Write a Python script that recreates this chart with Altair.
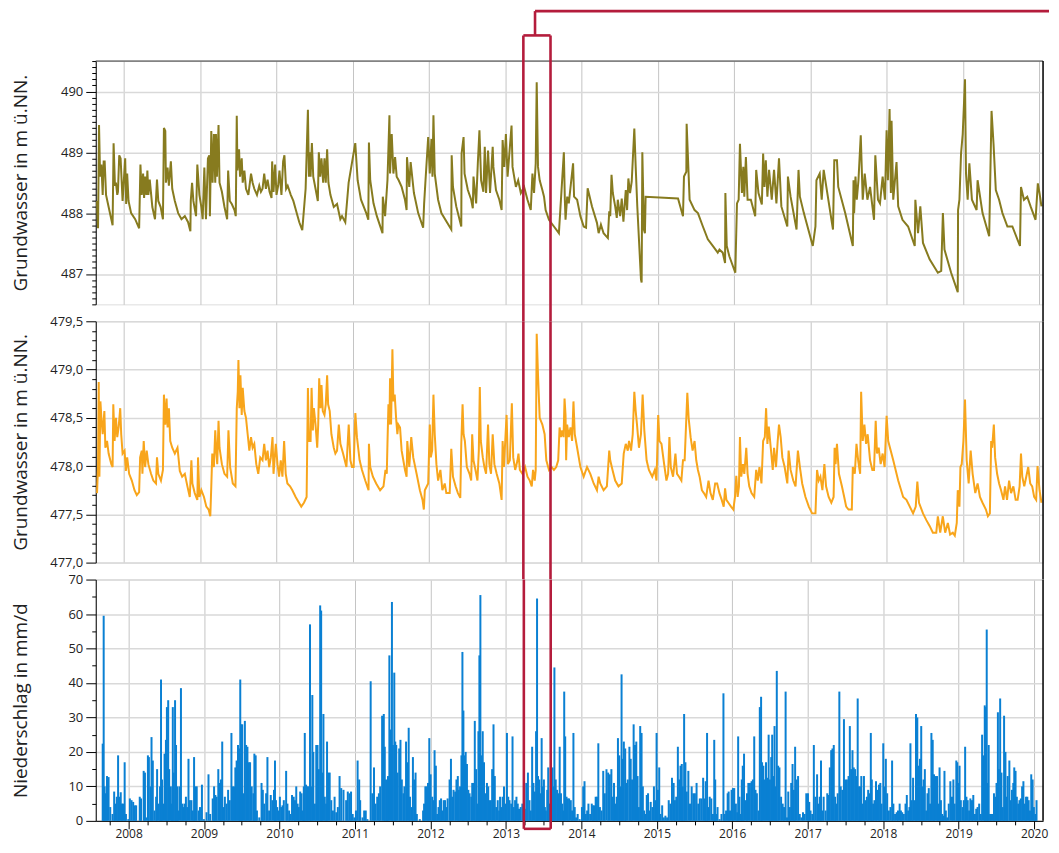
import altair as alt
import pandas as pd

# ---------------- data ----------------
# Groundwater gauge 1 (olive): (decimal year, level in m ü.NN.)
GW_OBEN = [
(2007.648,488.20),(2007.661,487.75),(2007.674,489.45),(2007.688,488.60),(2007.705,488.80),(2007.722,488.30),(2007.735,488.85),(2007.748,488.85),(2007.766,488.30),(2007.800,488.10),(2007.835,487.90),(2007.852,487.80),(2007.865,489.15),(2007.883,488.45),(2007.896,488.50),(2007.913,488.30),(2007.922,488.35),(2007.939,488.95),(2007.957,488.90),(2007.983,488.20),
(2008.017,488.90),(2008.030,488.15),(2008.043,488.65),(2008.061,488.20),(2008.095,488.00),(2008.148,487.90),(2008.200,487.75),(2008.217,488.80),(2008.234,488.30),(2008.252,488.65),(2008.265,488.25),(2008.278,488.60),(2008.295,488.30),(2008.308,488.70),(2008.321,488.30),(2008.339,488.55),(2008.373,488.10),(2008.408,487.90),(2008.434,488.55),(2008.451,488.20),(2008.482,488.10),(2008.512,487.90),(2008.525,489.40),(2008.543,489.35),(2008.551,488.50),(2008.573,488.75),(2008.590,488.45),(2008.616,488.85),(2008.634,488.40),(2008.668,488.20),(2008.712,488.00),(2008.755,487.90),(2008.799,487.95),(2008.842,487.85),(2008.872,487.70),(2008.877,488.20),(2008.894,488.50),(2008.911,488.20),(2008.946,487.95),(2008.963,488.80),(2008.990,488.30),
(2009.016,488.10),(2009.033,487.90),(2009.055,488.75),(2009.076,487.90),(2009.102,488.90),(2009.120,488.95),(2009.128,487.95),(2009.146,489.35),(2009.163,488.50),(2009.180,489.30),(2009.198,488.50),(2009.207,489.30),(2009.220,488.60),(2009.241,489.45),(2009.254,488.50),(2009.285,488.35),(2009.319,488.10),(2009.354,487.90),(2009.367,488.70),(2009.389,488.20),(2009.415,488.15),(2009.450,488.05),(2009.467,487.95),(2009.480,489.60),(2009.489,488.70),(2009.510,489.05),(2009.523,488.60),(2009.545,488.90),(2009.558,488.50),(2009.580,488.70),(2009.601,488.40),(2009.632,488.30),(2009.667,488.65),(2009.688,488.50),(2009.710,488.40),(2009.745,488.30),(2009.775,488.45),(2009.797,488.35),(2009.818,488.40),(2009.840,488.65),(2009.862,488.40),(2009.884,488.55),(2009.910,488.35),(2009.936,488.25),(2009.944,488.85),(2009.962,488.35),(2009.983,488.80),
(2010.001,488.30),(2010.023,488.45),(2010.040,488.70),(2010.066,488.30),(2010.088,488.85),(2010.105,488.95),(2010.127,488.40),(2010.148,488.45),(2010.188,488.30),(2010.222,488.20),(2010.266,488.00),(2010.300,487.85),(2010.339,487.72),(2010.383,488.40),(2010.413,489.70),(2010.426,488.60),(2010.435,489.00),(2010.448,488.60),(2010.465,489.15),(2010.483,488.60),(2010.513,488.40),(2010.543,488.20),(2010.556,489.00),(2010.574,488.60),(2010.591,488.90),(2010.613,488.50),(2010.630,488.90),(2010.647,488.50),(2010.665,489.05),(2010.682,488.50),(2010.708,488.30),(2010.752,488.10),(2010.795,488.15),(2010.838,487.90),(2010.860,487.95),(2010.903,487.85),(2010.947,488.50),
(2011.034,489.15),(2011.065,488.54),(2011.109,488.22),(2011.178,488.00),(2011.205,487.89),(2011.213,489.16),(2011.230,488.54),(2011.273,488.16),(2011.317,487.95),(2011.391,487.67),(2011.395,488.27),(2011.425,487.95),(2011.456,488.54),(2011.482,489.61),(2011.490,488.65),(2011.512,489.30),(2011.534,488.65),(2011.556,488.92),(2011.577,488.60),(2011.603,488.54),(2011.642,488.43),(2011.686,488.22),(2011.707,488.05),(2011.712,488.92),(2011.742,488.43),(2011.760,488.84),(2011.803,488.33),(2011.859,488.00),(2011.924,487.76),(2011.937,488.16),(2011.955,488.54),(2011.990,489.25),
(2012.011,488.65),(2012.033,489.22),(2012.046,488.60),(2012.059,489.61),(2012.076,488.65),(2012.120,488.22),(2012.163,488.00),(2012.293,487.73),(2012.298,488.95),(2012.315,488.43),(2012.358,488.11),(2012.424,487.78),(2012.428,488.98),(2012.454,489.25),(2012.467,488.65),(2012.510,488.38),(2012.554,488.22),(2012.575,488.08),(2012.584,488.60),(2012.619,488.16),(2012.641,488.82),(2012.662,489.36),(2012.684,488.54),(2012.714,488.35),(2012.732,489.09),(2012.749,488.33),(2012.775,489.03),(2012.801,488.33),(2012.836,489.09),(2012.845,488.76),(2012.879,488.38),(2012.923,488.22),(2012.953,488.05),(2012.966,489.20),(2012.988,488.76),
(2013.009,489.30),(2013.031,488.60),(2013.083,489.44),(2013.096,488.76),(2013.140,488.43),(2013.170,488.54),(2013.205,488.33),(2013.248,488.43),(2013.292,488.22),(2013.335,488.05),(2013.357,488.65),(2013.378,488.33),(2013.400,488.82),(2013.413,490.15),(2013.430,488.76),(2013.452,488.54),(2013.487,488.38),(2013.509,488.27),(2013.530,488.05),(2013.574,487.89),(2013.639,487.78),(2013.704,487.67),(2013.769,489.00),(2013.782,488.22),(2013.791,487.89),(2013.813,488.27),(2013.834,488.16),(2013.890,488.82),(2013.903,488.27),(2013.943,488.22),(2013.986,487.95),
(2014.029,487.78),(2014.060,487.76),(2014.081,488.41),(2014.138,488.11),(2014.203,487.84),(2014.225,487.67),(2014.255,487.81),(2014.290,487.67),(2014.346,487.59),(2014.364,488.03),(2014.377,487.95),(2014.394,488.63),(2014.411,488.33),(2014.442,488.11),(2014.463,487.92),(2014.476,488.22),(2014.507,487.95),(2014.528,488.24),(2014.550,487.86),(2014.581,488.38),(2014.598,488.05),(2014.615,488.57),(2014.637,488.33),(2014.659,488.52),(2014.693,489.39),(2014.711,488.76),(2014.732,488.11),(2014.780,486.91),(2014.789,486.86),(2014.798,489.00),(2014.819,487.73),(2014.832,487.67),(2014.841,488.27),
(2015.266,488.24),(2015.331,487.95),(2015.344,488.60),(2015.375,488.68),(2015.379,489.47),(2015.418,488.22),(2015.483,488.05),(2015.527,488.00),(2015.592,487.78),(2015.657,487.57),(2015.722,487.46),(2015.787,487.35),(2015.809,487.40),(2015.852,487.35),(2015.883,487.18),(2015.887,488.33),(2015.905,487.46),(2015.939,487.29),
(2016.017,487.02),(2016.039,488.16),(2016.061,488.22),(2016.078,489.14),(2016.104,488.33),(2016.122,488.76),(2016.135,488.27),(2016.156,488.92),(2016.178,488.22),(2016.221,488.22),(2016.278,487.95),(2016.291,488.71),(2016.321,488.33),(2016.365,488.14),(2016.382,488.98),(2016.399,488.43),(2016.417,488.87),(2016.438,488.27),(2016.460,488.71),(2016.495,488.22),(2016.525,488.71),(2016.556,488.16),(2016.590,488.90),(2016.621,488.11),(2016.699,487.78),(2016.707,488.60),(2016.742,488.27),(2016.820,487.73),(2016.846,488.71),(2016.864,488.27),(2016.916,488.00),
(2017.033,487.46),(2017.068,487.78),(2017.081,488.54),(2017.124,488.65),(2017.150,488.22),(2017.176,488.71),(2017.298,487.73),(2017.315,488.87),(2017.350,488.87),(2017.367,488.43),(2017.458,488.00),(2017.558,487.46),(2017.567,488.54),(2017.575,488.00),(2017.593,488.60),(2017.610,488.22),(2017.632,488.54),(2017.662,489.28),(2017.688,488.22),(2017.714,488.65),(2017.749,488.22),(2017.784,488.43),(2017.836,487.89),(2017.853,488.95),(2017.888,488.22),(2017.914,488.16),(2017.949,488.60),(2017.979,488.22),
(2018.001,489.36),(2018.018,488.54),(2018.040,489.71),(2018.057,488.33),(2018.066,489.52),(2018.088,488.22),(2018.131,488.84),(2018.153,488.11),(2018.209,487.89),(2018.283,487.78),(2018.370,487.46),(2018.378,488.22),(2018.413,487.67),(2018.443,488.11),(2018.478,487.51),(2018.565,487.24),(2018.673,487.02),(2018.717,487.05),(2018.739,488.00),(2018.760,487.40),(2018.847,487.02),(2018.934,486.70),(2018.938,488.05),(2018.956,488.22),(2018.977,488.98),(2018.999,489.30),
(2019.029,490.20),(2019.042,488.65),(2019.064,488.22),(2019.086,488.82),(2019.120,488.22),(2019.181,488.05),(2019.194,488.54),(2019.259,488.00),(2019.346,487.62),(2019.355,488.22),(2019.377,489.68),(2019.403,489.14),(2019.433,488.38),(2019.476,488.22),(2019.520,488.00),(2019.585,487.78),(2019.650,487.78),(2019.715,487.57),(2019.750,487.46),(2019.763,488.43),(2019.802,488.22),(2019.845,488.27),(2019.889,488.11),(2019.954,487.89),(2019.984,488.49),(2020.006,488.33),(2020.032,488.11),
]

# Groundwater gauge 2 (orange): (decimal year, level in m ü.NN.)
GW_UNTEN = [
(2007.648,477.72),(2007.661,478.00),(2007.670,478.87),(2007.679,477.89),(2007.692,478.67),(2007.705,478.50),(2007.722,478.33),(2007.744,478.57),(2007.757,478.19),(2007.779,478.26),(2007.800,478.13),(2007.835,478.02),(2007.852,477.99),(2007.861,478.64),(2007.878,478.26),(2007.896,478.50),(2007.913,478.30),(2007.931,478.40),(2007.952,478.60),(2007.965,478.33),(2007.983,478.13),
(2008.009,478.16),(2008.026,477.95),(2008.043,478.09),(2008.069,477.92),(2008.104,477.85),(2008.139,477.75),(2008.169,477.70),(2008.200,477.73),(2008.213,478.09),(2008.234,478.16),(2008.243,477.92),(2008.260,478.26),(2008.278,477.99),(2008.299,478.16),(2008.321,478.02),(2008.356,477.92),(2008.386,477.85),(2008.421,477.82),(2008.434,478.09),(2008.451,477.92),(2008.486,477.85),(2008.512,477.96),(2008.525,478.74),(2008.543,478.43),(2008.560,478.70),(2008.573,478.40),(2008.590,478.60),(2008.608,478.26),(2008.634,478.19),(2008.668,478.13),(2008.703,478.19),(2008.733,477.95),(2008.764,477.89),(2008.799,477.92),(2008.833,477.79),(2008.864,477.68),(2008.885,478.06),(2008.898,477.82),(2008.929,477.72),(2008.963,477.65),(2008.972,478.09),(2008.990,477.68),
(2009.016,477.75),(2009.050,477.68),(2009.081,477.58),(2009.111,477.55),(2009.133,477.48),(2009.146,477.79),(2009.159,478.13),(2009.180,477.99),(2009.198,478.37),(2009.211,478.16),(2009.224,478.02),(2009.241,478.47),(2009.254,478.19),(2009.285,478.02),(2009.319,477.92),(2009.354,477.89),(2009.371,478.37),(2009.393,477.99),(2009.428,477.82),(2009.463,477.79),(2009.480,478.60),(2009.493,478.77),(2009.502,479.10),(2009.515,478.60),(2009.528,478.94),(2009.545,478.53),(2009.558,478.81),(2009.580,478.57),(2009.601,478.50),(2009.623,478.33),(2009.645,478.16),(2009.667,478.30),(2009.688,478.19),(2009.710,478.23),(2009.736,478.02),(2009.762,477.92),(2009.788,478.09),(2009.818,478.06),(2009.840,478.23),(2009.862,478.06),(2009.884,478.16),(2009.905,477.99),(2009.927,478.09),(2009.949,478.30),(2009.962,477.92),(2009.992,478.23),
(2010.014,478.02),(2010.035,477.89),(2010.057,478.06),(2010.079,477.89),(2010.101,478.26),(2010.122,477.92),(2010.144,477.82),(2010.179,477.79),(2010.209,477.75),(2010.252,477.68),(2010.296,477.62),(2010.326,477.58),(2010.361,477.62),(2010.396,477.68),(2010.413,478.81),(2010.426,478.26),(2010.448,478.26),(2010.461,478.81),(2010.478,478.37),(2010.491,478.60),(2010.513,478.43),(2010.535,478.19),(2010.548,478.43),(2010.561,478.91),(2010.578,478.60),(2010.591,478.84),(2010.608,478.57),(2010.630,478.53),(2010.647,478.64),(2010.665,478.94),(2010.678,478.64),(2010.699,478.57),(2010.721,478.33),(2010.752,478.19),(2010.773,478.13),(2010.795,478.16),(2010.818,478.43),(2010.839,478.23),(2010.874,478.13),(2010.918,477.99),(2010.948,478.43),(2010.970,478.06),(2010.991,477.99),
(2011.013,477.99),(2011.035,478.55),(2011.056,478.30),(2011.091,478.06),(2011.122,477.96),(2011.165,477.85),(2011.208,477.75),(2011.213,478.23),(2011.230,477.99),(2011.265,477.89),(2011.308,477.82),(2011.360,477.75),(2011.404,477.79),(2011.430,477.96),(2011.447,477.92),(2011.456,478.23),(2011.469,478.64),(2011.482,478.43),(2011.490,478.91),(2011.503,478.43),(2011.521,479.21),(2011.534,478.67),(2011.551,478.74),(2011.569,478.50),(2011.586,478.33),(2011.599,478.43),(2011.621,478.40),(2011.642,478.16),(2011.664,478.06),(2011.686,477.96),(2011.707,477.89),(2011.716,478.26),(2011.742,477.99),(2011.768,478.30),(2011.794,478.09),(2011.838,477.92),(2011.881,477.75),(2011.916,477.65),(2011.933,477.55),(2011.946,477.75),(2011.990,477.82),
(2012.011,478.43),(2012.024,478.09),(2012.042,478.16),(2012.059,478.74),(2012.076,478.33),(2012.098,478.02),(2012.120,477.85),(2012.150,477.96),(2012.176,477.75),(2012.207,477.82),(2012.228,477.72),(2012.272,477.72),(2012.293,478.18),(2012.315,477.89),(2012.350,477.79),(2012.380,477.72),(2012.411,477.67),(2012.424,478.23),(2012.441,478.64),(2012.454,478.33),(2012.471,478.26),(2012.497,477.99),(2012.532,477.92),(2012.554,477.85),(2012.567,478.33),(2012.584,478.06),(2012.610,477.96),(2012.636,477.85),(2012.654,478.16),(2012.667,478.82),(2012.680,478.26),(2012.706,478.09),(2012.727,477.99),(2012.749,477.92),(2012.775,478.43),(2012.792,478.02),(2012.814,477.92),(2012.836,478.33),(2012.858,478.02),(2012.888,477.92),(2012.923,477.82),(2012.953,477.65),(2012.966,478.26),(2012.983,477.99),
(2013.018,478.53),(2013.035,478.02),(2013.061,478.06),(2013.087,478.65),(2013.105,478.09),(2013.131,477.96),(2013.161,478.06),(2013.174,478.13),(2013.192,477.96),(2013.226,477.92),(2013.261,477.99),(2013.292,477.89),(2013.322,477.85),(2013.348,477.79),(2013.365,477.96),(2013.387,477.85),(2013.400,477.96),(2013.413,479.37),(2013.430,478.94),(2013.452,478.50),(2013.487,478.43),(2013.517,478.33),(2013.539,478.06),(2013.574,477.96),(2013.608,477.99),(2013.639,477.96),(2013.669,477.99),(2013.695,478.06),(2013.713,478.40),(2013.730,478.30),(2013.747,478.37),(2013.765,478.30),(2013.778,478.70),(2013.791,478.53),(2013.799,478.06),(2013.812,478.43),(2013.834,478.30),(2013.856,478.40),(2013.877,478.26),(2013.895,478.67),(2013.912,478.33),(2013.943,478.19),(2013.986,477.99),
(2014.029,477.89),(2014.073,477.99),(2014.116,477.92),(2014.160,477.82),(2014.203,477.75),(2014.225,477.89),(2014.246,477.82),(2014.290,477.75),(2014.333,477.79),(2014.364,478.16),(2014.377,478.06),(2014.407,477.96),(2014.442,477.85),(2014.485,477.79),(2014.528,477.82),(2014.554,478.13),(2014.581,478.23),(2014.607,478.16),(2014.624,478.26),(2014.650,478.16),(2014.672,478.33),(2014.693,478.77),(2014.711,478.57),(2014.728,478.43),(2014.754,478.19),(2014.780,478.33),(2014.802,478.74),(2014.824,478.37),(2014.854,478.06),(2014.884,477.96),(2014.928,477.89),(2014.962,477.96),(2014.984,477.85),
(2015.006,478.53),(2015.023,478.26),(2015.049,478.23),(2015.084,478.02),(2015.114,477.85),(2015.136,477.92),(2015.153,478.30),(2015.171,477.99),(2015.201,477.89),(2015.232,478.13),(2015.253,477.92),(2015.279,477.89),(2015.310,477.85),(2015.331,478.06),(2015.353,478.06),(2015.375,478.50),(2015.388,478.76),(2015.405,478.50),(2015.431,478.30),(2015.457,478.16),(2015.483,478.26),(2015.505,478.06),(2015.527,477.96),(2015.549,477.89),(2015.579,477.75),(2015.605,477.72),(2015.635,477.68),(2015.666,477.85),(2015.692,477.72),(2015.722,477.65),(2015.753,477.82),(2015.779,477.82),(2015.809,477.72),(2015.839,477.65),(2015.865,477.58),(2015.883,477.77),(2015.900,477.65),(2015.926,477.62),(2015.961,477.58),(2015.991,477.55),
(2016.013,477.68),(2016.030,477.90),(2016.048,477.68),(2016.065,477.79),(2016.078,478.30),(2016.095,477.89),(2016.117,478.02),(2016.135,477.92),(2016.161,478.19),(2016.178,477.92),(2016.200,477.79),(2016.230,477.72),(2016.265,477.68),(2016.291,477.96),(2016.312,477.85),(2016.334,477.99),(2016.360,477.82),(2016.382,478.26),(2016.404,478.30),(2016.421,478.60),(2016.438,478.23),(2016.456,478.41),(2016.482,478.19),(2016.508,477.96),(2016.525,478.19),(2016.551,477.99),(2016.573,478.26),(2016.590,478.43),(2016.612,478.30),(2016.634,478.09),(2016.664,477.99),(2016.699,477.82),(2016.716,478.16),(2016.742,477.96),(2016.777,477.85),(2016.807,477.79),(2016.838,478.16),(2016.864,477.99),(2016.894,477.82),(2016.937,477.68),(2016.981,477.58),
(2017.024,477.51),(2017.068,477.51),(2017.089,477.96),(2017.111,477.85),(2017.133,477.89),(2017.159,477.75),(2017.185,478.02),(2017.207,477.79),(2017.241,477.68),(2017.276,477.62),(2017.306,477.68),(2017.319,478.19),(2017.332,478.02),(2017.350,478.23),(2017.376,477.92),(2017.415,477.79),(2017.445,477.68),(2017.471,477.58),(2017.502,477.55),(2017.545,477.55),(2017.558,477.99),(2017.584,477.92),(2017.606,478.23),(2017.628,478.06),(2017.654,477.92),(2017.667,478.77),(2017.688,478.26),(2017.710,478.43),(2017.732,478.23),(2017.753,478.33),(2017.784,478.06),(2017.814,477.96),(2017.836,477.96),(2017.858,478.47),(2017.875,478.13),(2017.897,478.19),(2017.923,478.02),(2017.949,478.13),(2017.975,477.99),
(2018.001,478.52),(2018.022,478.26),(2018.088,478.06),(2018.153,477.85),(2018.218,477.68),(2018.261,477.65),(2018.305,477.58),(2018.348,477.51),(2018.383,477.58),(2018.404,477.84),(2018.426,477.62),(2018.478,477.51),(2018.522,477.44),(2018.565,477.38),(2018.608,477.31),(2018.652,477.31),(2018.673,477.48),(2018.704,477.31),(2018.738,477.48),(2018.769,477.31),(2018.804,477.41),(2018.834,477.29),(2018.869,477.31),(2018.895,477.28),(2018.921,477.41),(2018.934,477.75),(2018.956,477.58),(2018.969,477.99),(2018.986,478.02),
(2019.008,478.26),(2019.029,478.69),(2019.051,478.06),(2019.077,477.82),(2019.103,478.16),(2019.129,477.92),(2019.164,477.72),(2019.194,477.82),(2019.225,477.68),(2019.259,477.62),(2019.303,477.55),(2019.329,477.48),(2019.355,477.51),(2019.372,478.26),(2019.385,478.19),(2019.407,478.43),(2019.424,478.09),(2019.450,477.92),(2019.476,477.82),(2019.502,477.75),(2019.533,477.65),(2019.554,477.79),(2019.580,477.65),(2019.607,477.85),(2019.633,477.72),(2019.663,477.79),(2019.693,477.65),(2019.719,477.65),(2019.745,477.79),(2019.763,478.13),(2019.780,477.89),(2019.806,477.79),(2019.832,477.89),(2019.858,477.99),(2019.884,477.82),(2019.910,477.79),(2019.936,477.68),(2019.962,477.65),(2019.980,478.00),(2020.006,477.75),(2020.032,477.62),
]

# Daily precipitation (blue bars): (decimal year, mm/d)
NIEDERSCHLAG = [
(2007.657,22.4),(2007.670,59.5),(2007.683,10),(2007.696,8),(2007.714,13),(2007.735,12.7),(2007.757,4),(2007.787,2),(2007.809,8.5),(2007.826,5),(2007.844,7),(2007.861,19),(2007.878,7),(2007.896,8.3),(2007.913,5),(2007.931,5),(2007.948,17),(2007.965,2),(2007.996,0.5),
(2008.017,6.5),(2008.039,6),(2008.061,5.5),(2008.082,4.5),(2008.100,4.5),(2008.148,7),(2008.165,6.5),(2008.200,14.5),(2008.217,14),(2008.234,1),(2008.256,19),(2008.269,18.5),(2008.291,10),(2008.304,24.3),(2008.321,17.5),(2008.343,3),(2008.365,7),(2008.378,15),(2008.399,5),(2008.417,10),(2008.430,41),(2008.443,12),(2008.460,5),(2008.477,19.5),(2008.495,23.5),(2008.508,33),(2008.525,35),(2008.538,15),(2008.560,10),(2008.573,5),(2008.586,33),(2008.599,14),(2008.616,35),(2008.629,22),(2008.642,10),(2008.655,3),(2008.673,10),(2008.694,38.5),(2008.712,5),(2008.725,4),(2008.742,5),(2008.760,7),(2008.777,4),(2008.794,18),(2008.812,6),(2008.833,6),(2008.851,3),(2008.868,18.5),(2008.885,10),(2008.903,10),(2008.929,3),(2008.946,4),(2008.972,10.5),(2008.998,0.5),
(2009.033,2.5),(2009.059,13.5),(2009.081,2),(2009.115,6.5),(2009.133,10),(2009.150,7.5),(2009.167,7),(2009.189,15),(2009.211,11),(2009.224,12),(2009.241,23),(2009.259,4),(2009.276,7),(2009.298,5),(2009.319,9),(2009.341,6),(2009.363,25.5),(2009.380,10),(2009.397,10),(2009.415,15.5),(2009.432,17.5),(2009.450,22),(2009.467,21),(2009.480,41),(2009.493,28),(2009.506,28),(2009.523,8),(2009.541,29),(2009.558,22),(2009.575,21.5),(2009.593,17),(2009.610,17),(2009.632,10),(2009.654,8),(2009.667,19.5),(2009.684,19),(2009.701,3),(2009.732,1),(2009.762,11),(2009.779,9),(2009.797,5),(2009.823,8),(2009.840,18.5),(2009.862,3),(2009.884,7.5),(2009.905,6),(2009.927,9),(2009.940,17.5),(2009.953,6),(2009.970,4),(2009.992,3),
(2010.005,7),(2010.023,4),(2010.040,4.5),(2010.057,6),(2010.088,14.5),(2010.105,5),(2010.127,3),(2010.144,2),(2010.166,7.5),(2010.188,7),(2010.205,6),(2010.222,10),(2010.240,5),(2010.257,4),(2010.274,8.5),(2010.292,8),(2010.309,3),(2010.322,10),(2010.335,25.5),(2010.352,10.5),(2010.370,10),(2010.383,10),(2010.404,57),(2010.417,10),(2010.435,36.5),(2010.448,20),(2010.469,5),(2010.487,22),(2010.504,22),(2010.522,15),(2010.539,62.5),(2010.552,61),(2010.565,14),(2010.582,31),(2010.600,7),(2010.617,5),(2010.630,23),(2010.647,14),(2010.665,14),(2010.686,6),(2010.708,3),(2010.730,7),(2010.752,2.5),(2010.773,4),(2010.796,13),(2010.818,9.5),(2010.848,9),(2010.883,6),(2010.905,8.5),(2010.926,8),(2010.948,8.5),(2010.970,2),(2010.991,1),
(2011.013,3),(2011.035,17.5),(2011.056,12),(2011.069,6),(2011.100,1),(2011.122,3),(2011.143,3),(2011.165,0.5),(2011.208,40.5),(2011.230,8),(2011.252,15.5),(2011.273,5),(2011.295,7),(2011.317,8),(2011.334,10),(2011.360,30.5),(2011.382,31),(2011.395,21.5),(2011.412,12),(2011.425,9),(2011.438,13),(2011.456,48),(2011.473,26.5),(2011.490,63.5),(2011.503,22),(2011.521,43),(2011.534,23),(2011.547,22),(2011.564,14),(2011.586,21),(2011.603,23.5),(2011.621,12),(2011.642,8),(2011.655,10),(2011.677,23),(2011.694,17),(2011.712,27),(2011.729,7),(2011.751,4),(2011.768,18.5),(2011.786,12),(2011.803,14),(2011.820,2),(2011.859,0.5),(2011.903,3),(2011.916,5),(2011.933,10),(2011.950,10),(2011.968,11),(2011.985,24),
(2012.003,13.5),(2012.024,7),(2012.042,6),(2012.055,20.5),(2012.072,16),(2012.089,2),(2012.107,4),(2012.124,6),(2012.141,6.5),(2012.159,3),(2012.176,6),(2012.194,6),(2012.211,4),(2012.228,6.5),(2012.254,12),(2012.272,18),(2012.289,7),(2012.306,9),(2012.328,8.5),(2012.345,12),(2012.363,13),(2012.376,9),(2012.393,10),(2012.411,19),(2012.424,49),(2012.437,32),(2012.450,19),(2012.467,20),(2012.484,16.5),(2012.502,9),(2012.519,8),(2012.541,7),(2012.554,11),(2012.571,11),(2012.588,29),(2012.606,15),(2012.619,5),(2012.636,26),(2012.649,48),(2012.662,65.5),(2012.675,19),(2012.693,26),(2012.710,17),(2012.727,8),(2012.749,11),(2012.766,10),(2012.779,6),(2012.801,6),(2012.818,15),(2012.836,28),(2012.853,13),(2012.871,4),(2012.892,6),(2012.910,3),(2012.923,7),(2012.940,4),(2012.957,7),(2012.975,10),(2012.996,5),
(2013.014,25.5),(2013.031,7),(2013.048,6),(2013.070,5),(2013.088,24.5),(2013.105,4),(2013.122,6),(2013.140,7),(2013.157,5),(2013.174,3.5),(2013.196,4),(2013.218,5),(2013.235,3),(2013.252,3.5),(2013.270,11),(2013.292,14),(2013.313,6),(2013.331,3),(2013.348,21.5),(2013.365,11),(2013.383,8.5),(2013.400,26),(2013.413,64.5),(2013.426,13),(2013.443,12),(2013.456,8),(2013.474,24),(2013.487,10),(2013.504,12),(2013.517,4),(2013.530,3),(2013.548,9),(2013.561,15.5),(2013.574,5),(2013.595,5),(2013.617,15.5),(2013.630,10),(2013.643,44.5),(2013.660,12),(2013.678,9),(2013.695,8),(2013.713,21.5),(2013.730,8),(2013.747,5),(2013.765,3),(2013.773,37.5),(2013.786,24.5),(2013.804,7),(2013.821,6.5),(2013.838,6.5),(2013.860,6),(2013.877,3),(2013.895,25.5),(2013.912,4),(2013.930,1),(2013.951,2),(2013.977,0.5),
(2014.008,4),(2014.025,10),(2014.042,11.5),(2014.060,2),(2014.077,3),(2014.094,5),(2014.116,2),(2014.138,5),(2014.155,4.5),(2014.173,4.5),(2014.190,7),(2014.207,7),(2014.225,22.5),(2014.246,4),(2014.268,3),(2014.290,14.5),(2014.311,8),(2014.333,15),(2014.355,14),(2014.377,13.5),(2014.398,15),(2014.416,7),(2014.433,11),(2014.450,5),(2014.468,7),(2014.485,24),(2014.502,19),(2014.520,10),(2014.533,42.5),(2014.546,18),(2014.563,23),(2014.581,21),(2014.594,11),(2014.615,12),(2014.637,21.5),(2014.654,18),(2014.672,12),(2014.693,28),(2014.711,22),(2014.728,23),(2014.745,13),(2014.763,4),(2014.780,27.5),(2014.798,25.5),(2014.815,10),(2014.832,3),(2014.850,2),(2014.867,7.5),(2014.884,8),(2014.902,3),(2014.919,5.5),(2014.941,4),(2014.962,10),(2014.980,6),(2014.997,25.5),
(2015.015,9),(2015.032,15.5),(2015.049,2),(2015.071,4.5),(2015.093,1),(2015.114,1.5),(2015.136,1),(2015.158,6),(2015.179,5),(2015.201,12.5),(2015.223,11),(2015.240,6),(2015.258,7),(2015.279,21.5),(2015.297,12),(2015.314,16),(2015.331,16.5),(2015.344,10),(2015.362,31),(2015.379,17),(2015.397,8.5),(2015.418,14.5),(2015.440,5),(2015.462,10),(2015.483,8),(2015.505,8),(2015.527,11),(2015.549,5),(2015.570,6.5),(2015.592,6.5),(2015.614,12.5),(2015.635,6.5),(2015.648,11.5),(2015.666,25.5),(2015.683,4),(2015.701,7),(2015.722,6.5),(2015.744,2),(2015.761,23.5),(2015.774,12),(2015.787,2),(2015.805,4),(2015.831,0.5),(2015.857,2),(2015.883,37),(2015.900,2),(2015.918,3),(2015.939,8),(2015.952,8.5),(2015.970,3),(2015.991,9),
(2016.009,9.5),(2016.026,9.5),(2016.048,5),(2016.065,2.5),(2016.078,24.5),(2016.095,7),(2016.113,2),(2016.126,12),(2016.139,16),(2016.156,19.5),(2016.178,6),(2016.195,8),(2016.213,11),(2016.234,11),(2016.256,11.5),(2016.273,12),(2016.291,24.5),(2016.308,9),(2016.326,8),(2016.347,3),(2016.365,33),(2016.382,36),(2016.395,17),(2016.412,16),(2016.430,12),(2016.447,17),(2016.464,12.5),(2016.482,25),(2016.499,12),(2016.516,18.5),(2016.529,25),(2016.547,13),(2016.560,27.5),(2016.577,10),(2016.590,43.5),(2016.608,16),(2016.625,15.5),(2016.647,7),(2016.668,5),(2016.686,4),(2016.707,37.5),(2016.725,1),(2016.742,8.5),(2016.764,4),(2016.781,11),(2016.799,16.5),(2016.816,9),(2016.833,21.5),(2016.851,12),(2016.872,13),(2016.894,2),(2016.916,1),(2016.937,2.5),(2016.959,2),(2016.981,8),
(2017.003,8),(2017.020,5.5),(2017.037,3),(2017.059,2),(2017.081,22),(2017.102,7),(2017.124,13.5),(2017.141,5),(2017.159,7),(2017.176,17.5),(2017.194,3),(2017.211,7),(2017.237,3),(2017.259,8),(2017.276,7.5),(2017.293,15.5),(2017.311,20.5),(2017.328,21),(2017.345,22),(2017.363,7),(2017.380,5),(2017.397,8),(2017.419,37.5),(2017.437,10),(2017.458,9),(2017.480,29.5),(2017.497,12),(2017.519,12),(2017.541,13),(2017.558,27.5),(2017.575,15),(2017.593,20.5),(2017.610,15.5),(2017.628,15),(2017.645,13),(2017.662,35.5),(2017.680,10),(2017.697,10),(2017.710,13),(2017.727,5),(2017.745,13),(2017.762,6),(2017.784,7),(2017.801,9),(2017.818,8),(2017.836,25.5),(2017.849,12),(2017.866,5),(2017.884,6),(2017.905,11.5),(2017.923,9),(2017.944,10.5),(2017.962,11),(2017.979,5),
(2018.001,22.5),(2018.018,10),(2018.035,18),(2018.053,8),(2018.075,3),(2018.096,4),(2018.118,17.5),(2018.135,5),(2018.157,2),(2018.179,2.5),(2018.196,3),(2018.218,5),(2018.235,3),(2018.252,2.5),(2018.274,2),(2018.296,5),(2018.313,7.5),(2018.331,3),(2018.348,4),(2018.361,22.5),(2018.378,6),(2018.396,12.5),(2018.417,6),(2018.435,31),(2018.452,30),(2018.469,16),(2018.487,18),(2018.504,27.5),(2018.522,10),(2018.535,12),(2018.552,15),(2018.569,3),(2018.587,8),(2018.604,9.5),(2018.621,5),(2018.639,25.5),(2018.656,23.5),(2018.673,13.5),(2018.691,13),(2018.713,13),(2018.730,5),(2018.747,15.5),(2018.765,6),(2018.782,2),(2018.795,1.5),(2018.812,14.5),(2018.830,3),(2018.847,1),(2018.869,5),(2018.890,11.5),(2018.912,7),(2018.930,12),(2018.947,5),(2018.969,17.5),(2018.982,17),(2018.999,11),
(2019.012,16),(2019.029,6),(2019.051,4),(2019.068,6),(2019.086,21.5),(2019.103,7),(2019.120,6),(2019.138,3),(2019.155,6.5),(2019.177,6),(2019.194,7.5),(2019.216,2),(2019.233,3.5),(2019.251,4),(2019.272,5),(2019.294,2),(2019.311,25),(2019.333,19),(2019.346,33.5),(2019.359,33),(2019.372,55.5),(2019.385,11),(2019.398,22),(2019.416,2),(2019.433,2),(2019.450,2),(2019.468,8),(2019.485,7),(2019.502,11),(2019.520,31.5),(2019.533,15),(2019.550,35.5),(2019.567,14),(2019.585,4),(2019.602,30.5),(2019.620,20),(2019.637,7),(2019.650,13),(2019.672,17.5),(2019.689,6),(2019.706,9),(2019.724,11),(2019.737,15.5),(2019.754,14.5),(2019.771,7),(2019.789,5),(2019.806,6),(2019.824,6.5),(2019.841,10),(2019.858,11.5),(2019.876,5),(2019.893,7),(2019.910,7),(2019.928,6),(2019.945,3),(2019.962,13.5),(2019.980,12),(2019.997,4),(2020.015,2),(2020.032,6),
]

# axis ticks / labels
YEARS = list(range(2008, 2021))
QUARTER_TICKS = [2007.75 + 0.25 * i for i in range(50)]
TICKS_OBEN = [round(486.5 + 0.1 * i, 1) for i in range(41)]
TICKS_UNTEN = [round(477.0 + 0.1 * i, 1) for i in range(26)]
TICKS_NIED = list(range(0, 75, 5))

# highlighted period (summer 2013 flood)
HIGHLIGHT = {"start": [2013.238], "end": [2013.594], "mid": [2013.391]}

# ---------------- style ----------------
W = 950
H1, H2, H3 = 244, 242, 242
GAP = 17
XDOM = [2007.631, 2020.052]
FONT = "Open Sans"
OLIVE = "#877b1f"
ORANGE = "#f8a51b"
BLUE = "#0a80d3"
RED = "#b41c3c"
TXT = "#222222"
BOX_TOP = -25.7
CONN_Y = -50.1
BOX_BOTTOM = H3 + 8

df_oben = pd.DataFrame(GW_OBEN, columns=["Jahr", "Wert"])
df_unten = pd.DataFrame(GW_UNTEN, columns=["Jahr", "Wert"])
df_nied = pd.DataFrame(NIEDERSCHLAG, columns=["Jahr", "Wert"])
df_hl = pd.DataFrame(HIGHLIGHT)
df_one = pd.DataFrame({"k": [0]})

xscale = alt.Scale(domain=XDOM, nice=False, zero=False)


def cond(test, a, b):
    return {"condition": {"test": test, "value": a}, "value": b}


def x_axis(show):
    if not show:
        return alt.Axis(values=YEARS, title=None, grid=True, gridColor="#c4c4c4",
                        gridWidth=1, labels=False, ticks=False, domain=False)
    t = "datum.value % 1 == 0"
    return alt.Axis(values=QUARTER_TICKS, title=None, grid=True, gridColor="#c4c4c4",
                    gridWidth=1, gridOpacity=cond(t, 1, 0), tickSize=cond(t, 8, 4),
                    tickColor="#000", domainColor="#000", domainWidth=1,
                    labelExpr=f"{t} ? format(datum.value, 'd') : ''",
                    labelOverlap=False, labelFlush=False, labelPadding=0,
                    labelFont=FONT, labelFontSize=12, labelColor=TXT)


def y_axis(title, values, test, label_expr, h):
    return alt.Axis(values=values, title=title, titleFont=FONT, titleFontSize=19,
                    titleFontWeight="normal", titleColor=TXT, titleAngle=270,
                    titleX=-65.5, titleY=h / 2, titleAlign="center", titleBaseline="bottom",
                    grid=True, gridColor="#d9d9d9", gridWidth=1.5,
                    gridOpacity=cond(test, 1, 0), tickSize=cond(test, 10, 4),
                    tickColor="#000", domainColor="#000", domainWidth=1,
                    labelExpr=label_expr, labelOverlap=False, labelPadding=3,
                    labelFont=FONT, labelFontSize=13, labelColor=TXT)


def vrule(field, y0, y1, xaxis):
    return alt.Chart(df_hl).mark_rule(color=RED, strokeWidth=2.6).encode(
        x=alt.X(f"{field}:Q", scale=xscale, axis=xaxis),
        y=alt.value(y0), y2=alt.value(y1))


def right_border(h_extra):
    return alt.Chart(df_one).mark_rule(color="#000", strokeWidth=1.5).encode(
        x=alt.value(W), y=alt.value(0), y2=alt.value(h_extra))


AX_OFF = x_axis(False)
AX_ON = x_axis(True)

# ---------------- panel 1 ----------------
t1 = "abs(datum.value - round(datum.value)) < 0.001"
line1 = alt.Chart(df_oben).mark_line(color=OLIVE, strokeWidth=2).encode(
    x=alt.X("Jahr:Q", scale=xscale, axis=AX_OFF),
    y=alt.Y("Wert:Q", scale=alt.Scale(domain=[486.5, 490.5], nice=False, zero=False),
            axis=y_axis("Grundwasser in m ü.NN.", TICKS_OBEN, t1,
                        f"{t1} ? format(datum.value, 'd') : ''", H1)))
top_border = alt.Chart(df_one).mark_rule(color="#333", strokeWidth=1).encode(
    x=alt.value(0), x2=alt.value(W), y=alt.value(0))
box_top = alt.Chart(df_hl).mark_rule(color=RED, strokeWidth=2.6).encode(
    x=alt.X("start:Q", scale=xscale, axis=AX_OFF), x2="end:Q", y=alt.value(BOX_TOP))
conn_v = vrule("mid", BOX_TOP, CONN_Y, AX_OFF)
conn_h = alt.Chart(df_hl).mark_rule(color=RED, strokeWidth=2.6).encode(
    x=alt.X("mid:Q", scale=xscale, axis=AX_OFF), x2=alt.value(W + 6), y=alt.value(CONN_Y))
p1 = alt.layer(line1, top_border, right_border(H1 + GAP),
               vrule("start", BOX_TOP, H1 + GAP, AX_OFF), vrule("end", BOX_TOP, H1 + GAP, AX_OFF),
               box_top, conn_v, conn_h).properties(width=W, height=H1)

# ---------------- panel 2 ----------------
t2 = "abs(datum.value * 2 - round(datum.value * 2)) < 0.001"
line2 = alt.Chart(df_unten).mark_line(color=ORANGE, strokeWidth=2).encode(
    x=alt.X("Jahr:Q", scale=xscale, axis=AX_OFF),
    y=alt.Y("Wert:Q", scale=alt.Scale(domain=[477.0, 479.5], nice=False, zero=False),
            axis=y_axis("Grundwasser in m ü.NN.", TICKS_UNTEN, t2,
                        f"{t2} ? replace(format(datum.value, '.1f'), '.', ',') : ''", H2)))
p2 = alt.layer(line2, right_border(H2 + GAP),
               vrule("start", 0, H2 + GAP, AX_OFF), vrule("end", 0, H2 + GAP, AX_OFF)
               ).properties(width=W, height=H2)

# ---------------- panel 3 ----------------
t3 = "datum.value % 10 == 0"
bars = alt.Chart(df_nied).mark_bar(color=BLUE, size=2, orient="vertical").encode(
    x=alt.X("Jahr:Q", scale=xscale, axis=AX_ON),
    y=alt.Y("Wert:Q", stack=None, scale=alt.Scale(domain=[0, 70], nice=False),
            axis=y_axis("Niederschlag in mm/d", TICKS_NIED, t3,
                        f"{t3} ? format(datum.value, 'd') : ''", H3)))
box_bottom = alt.Chart(df_hl).mark_rule(color=RED, strokeWidth=2.6).encode(
    x=alt.X("start:Q", scale=xscale, axis=AX_ON), x2="end:Q", y=alt.value(BOX_BOTTOM))
p3 = alt.layer(bars, right_border(H3),
               vrule("start", 0, BOX_BOTTOM, AX_ON), vrule("end", 0, BOX_BOTTOM, AX_ON),
               box_bottom).properties(width=W, height=H3)

chart = alt.vconcat(p1, p2, p3, spacing=GAP, bounds="flush").properties(
    padding={"left": 2, "top": 0, "right": 0, "bottom": 0}
).configure_view(stroke=None).configure(font=FONT)

chart.save("out.html", embed_options={"renderer": "svg", "actions": False})
